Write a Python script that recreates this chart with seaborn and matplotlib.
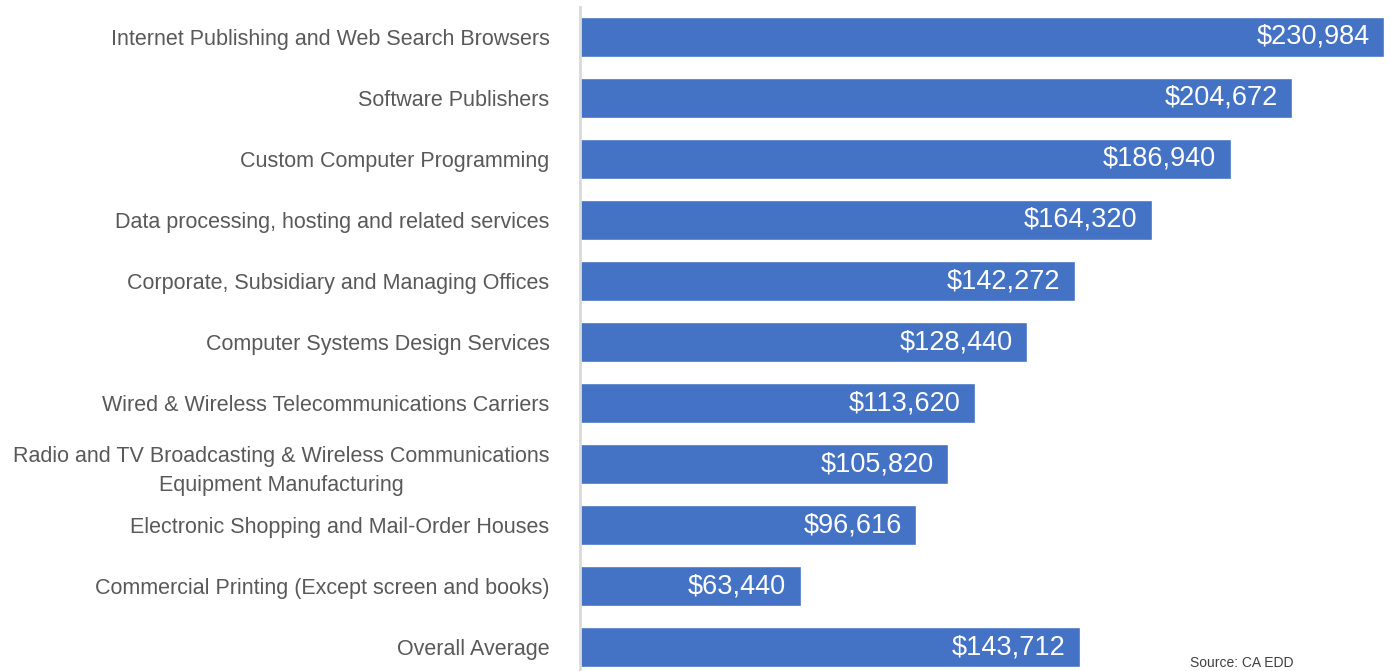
import matplotlib
matplotlib.use('Agg')
import matplotlib.pyplot as plt
from matplotlib import font_manager
import seaborn as sns
import pandas as pd

industries = [
    'Internet Publishing and Web Search Browsers',
    'Software Publishers',
    'Custom Computer Programming',
    'Data processing, hosting and related services',
    'Corporate, Subsidiary and Managing Offices',
    'Computer Systems Design Services',
    'Wired & Wireless Telecommunications Carriers',
    'Radio and TV Broadcasting & Wireless Communications\nEquipment Manufacturing',
    'Electronic Shopping and Mail-Order Houses',
    'Commercial Printing (Except screen and books)',
    'Overall Average',
]
wages = [230984, 204672, 186940, 164320, 142272, 128440, 113620, 105820, 96616, 63440, 143712]

df = pd.DataFrame({'industry': industries, 'wage': wages})

sns.set_style('white')
names = {f.name for f in font_manager.fontManager.ttflist}
font = 'Liberation Sans Narrow' if 'Liberation Sans Narrow' in names else 'Liberation Sans'
plt.rcParams['font.family'] = [font, 'DejaVu Sans']

fig = plt.figure(figsize=(13.9, 6.71), dpi=100)
ax = fig.add_axes([580 / 1390, 0, 810 / 1390, 664 / 671])

sns.barplot(data=df, x='wage', y='industry', orient='h', color='#4472C4',
            width=0.656, saturation=1, ax=ax)

ax.set_xlim(0, 232700)
ax.set_ylim(10.39, -0.49)
ax.set_xlabel('')
ax.set_ylabel('')
ax.set_xticks([])
ax.tick_params(axis='y', length=0, pad=22, labelsize=15.5, labelcolor='#595959')
for lbl in ax.get_yticklabels():
    lbl.set_multialignment('center')
    lbl.set_linespacing(1.5)

for s in ['top', 'right', 'bottom']:
    ax.spines[s].set_visible(False)
ax.spines['left'].set_color('#d9d9d9')
ax.spines['left'].set_linewidth(2)

for i, v in enumerate(wages):
    ax.text(v - 4200, i, f'${v:,}', color='white', fontsize=19.5,
            ha='right', va='center')

fig.text(1190 / 1390, 0.002, 'Source: CA EDD', fontsize=10, color='#404040',
         ha='left', va='bottom')

fig.savefig('out.png', dpi=100)
